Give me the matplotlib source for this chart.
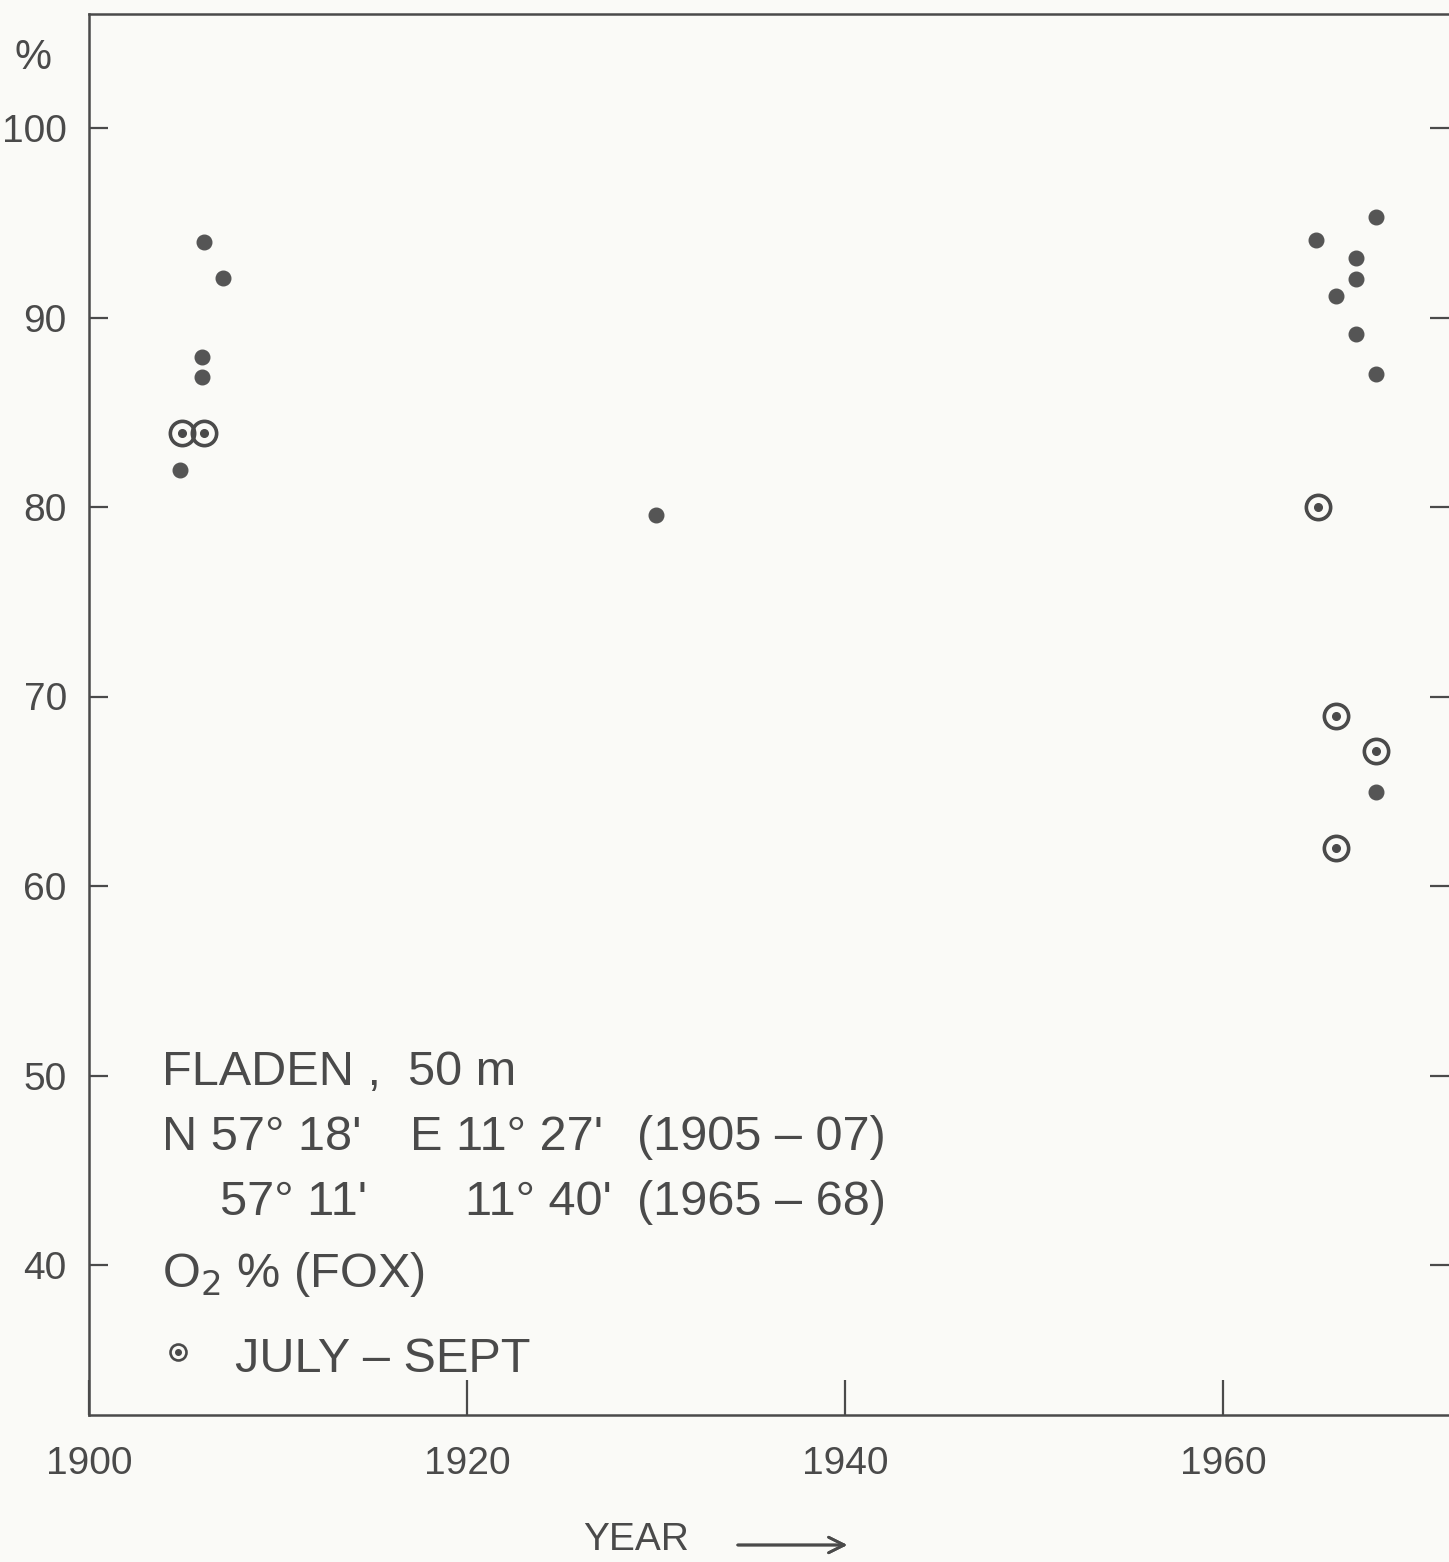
import matplotlib.pyplot as plt

# O2 saturation, Fladen 50 m
dot_year = [1904.8, 1906.1, 1907.1, 1906.0, 1906.0, 1930.0,
            1964.9, 1966.0, 1967.05, 1967.05, 1967.05, 1968.1, 1968.1, 1968.1]
dot_o2 = [81.95, 93.97, 92.07, 87.92, 86.88, 79.58,
          94.09, 91.15, 93.16, 92.05, 89.13, 95.32, 87.02, 64.98]

# July - Sept samples (ringed symbols)
summer_year = [1904.9, 1906.1, 1965.0, 1966.0, 1966.0, 1968.1]
summer_o2 = [83.9, 83.9, 79.98, 68.97, 62.02, 67.12]

y_ticks = [40, 50, 60, 70, 80, 90, 100]
x_ticks = [1900, 1920, 1940, 1960]

W, H = 1449, 1562
INK = "#4a4a4a"
PAPER = "#fafaf7"


def fx(px):
    return px / W


def fy(py):
    return 1 - py / H


fig = plt.figure(figsize=(W / 100, H / 100), dpi=100, facecolor=PAPER)
ax = fig.add_axes([fx(89), fy(1415), fx(W - 89), (1415 - 14) / H])
ax.set_facecolor(PAPER)

ax.plot(dot_year, dot_o2, "o", ms=10.5, color="#555555", mec="#555555", ls="none")
ax.plot(summer_year, summer_o2, "o", ms=17.5, mfc="none", mec=INK, mew=2.6, ls="none")
ax.plot(summer_year, summer_o2, "o", ms=5.5, color=INK, ls="none")

ax.set_xlim(1900, 1900 + (W - 89) / 18.9)
ax.set_ylim(40 - 150 / 18.95, 100 + 114 / 18.95)
ax.set_xticks(x_ticks)
ax.set_yticks(y_ticks)

for side in ("left", "top", "bottom"):
    ax.spines[side].set_linewidth(1.8)
    ax.spines[side].set_color(INK)
ax.spines["right"].set_visible(False)

lab_font = dict(family="Liberation Sans", size=28, color=INK)
ax.set_xticklabels([str(t) for t in x_ticks], **lab_font)
ax.set_yticklabels([str(t) for t in y_ticks], **lab_font)
ax.tick_params(axis="y", which="both", direction="in", length=14, width=1.6,
               color=INK, pad=16, right=True)
ax.tick_params(axis="x", direction="in", length=25, width=1.6, color=INK, pad=22)

fig.text(fx(33), fy(58), "%", ha="center", va="center",
         family="Liberation Sans", size=30, color=INK)

# annotation block
tf = dict(family="Liberation Sans", size=35, color=INK, va="baseline")
fig.text(fx(162), fy(1085), "FLADEN ,  50 m", **tf)
fig.text(fx(162), fy(1150), "N 57° 18'", **tf)
fig.text(fx(410), fy(1150), "E 11° 27'", **tf)
fig.text(fx(637), fy(1150), "(1905 – 07)", **tf)
fig.text(fx(220), fy(1215), "57° 11'", **tf)
fig.text(fx(465), fy(1215), "11° 40'", **tf)
fig.text(fx(637), fy(1215), "(1965 – 68)", **tf)
fig.text(fx(162), fy(1287), "O$_2$ % (FOX)", **tf)
fig.text(fx(235), fy(1372), "JULY – SEPT", **tf)
fig.lines.append(plt.Line2D([fx(178)], [fy(1352)], transform=fig.transFigure,
                            marker="o", ms=11.5, mfc="none", mec=INK, mew=1.9))
fig.lines.append(plt.Line2D([fx(178)], [fy(1352)], transform=fig.transFigure,
                            marker="o", ms=4, color=INK))

# axis label with arrow
fig.text(fx(636), fy(1540), "YEAR", ha="center", va="center",
         family="Liberation Sans", size=28, color=INK)
fig.add_artist(plt.annotate("", xy=(fx(850), fy(1545)), xytext=(fx(735), fy(1545)),
                            xycoords="figure fraction", textcoords="figure fraction",
                            arrowprops=dict(arrowstyle="->", color=INK, lw=2,
                                            mutation_scale=28)))

fig.savefig("out.png", dpi=100, facecolor=PAPER)
